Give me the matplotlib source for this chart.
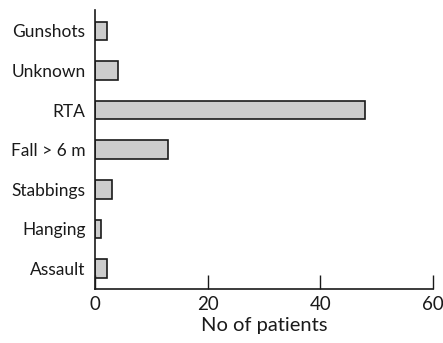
import matplotlib
matplotlib.use("Agg")
import matplotlib.pyplot as plt

categories = ["Assault", "Hanging", "Stabbings", "Fall > 6 m", "RTA", "Unknown", "Gunshots"]
values = [2, 1, 3, 13, 48, 4, 2]
xticks = [0, 20, 40, 60]

plt.rcParams['font.family'] = ['Lato', 'DejaVu Sans']
W, H = 443, 343
fig = plt.figure(figsize=(W/100, H/100), dpi=100)
ax = fig.add_axes([95.3/W, 1-289.3/H, (432.7-95.3)/W, (289.3-10)/H])

ax.barh(range(len(categories)), values, height=0.47, color="#cccccc",
        edgecolor="#1a1a1a", linewidth=1.2)
ax.set_xlim(0, 60)
ax.set_ylim(-0.525, len(categories)-0.47)
ax.set_yticks(range(len(categories)))
ax.set_yticklabels(categories, fontsize=12.5, color="#1a1a1a")
ax.set_xticks(xticks)
ax.set_xticklabels([str(t) for t in xticks], fontsize=13.5, color="#1a1a1a")
ax.tick_params(axis='y', length=0, pad=7)
ax.tick_params(axis='x', direction='in', length=10, width=1, pad=5, color="#1a1a1a")
ax.set_xlabel("No of patients", fontsize=14.5, color="#1a1a1a", labelpad=3)
for s in ["top", "right"]:
    ax.spines[s].set_visible(False)
for s in ["left", "bottom"]:
    ax.spines[s].set_linewidth(1.2)
    ax.spines[s].set_color("#1a1a1a")

fig.savefig("out.png", dpi=100)
